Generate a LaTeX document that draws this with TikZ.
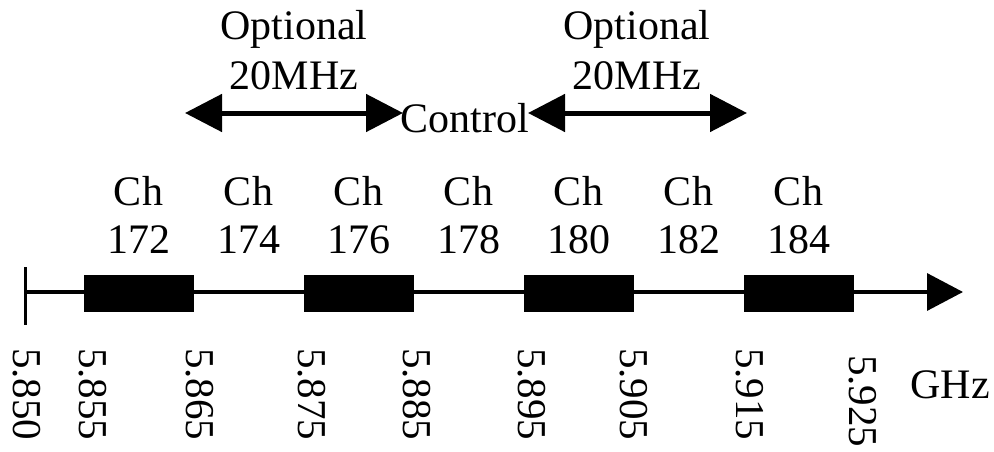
\documentclass[tikz,border=0pt]{standalone}
\usepackage{fontspec}
\setmainfont{Liberation Serif}
\usetikzlibrary{arrows.meta}
\begin{document}
\begin{tikzpicture}[x=1pt,y=-1pt,
  lbl/.style={inner sep=0pt,anchor=base,font=\fontsize{42pt}{50pt}\selectfont},
  freq/.style={inner sep=0pt,anchor=west,rotate=-90,font=\fontsize{41pt}{49pt}\selectfont},
  chbox/.style={fill=black,draw=none,minimum width=110pt,minimum height=37pt,inner sep=0pt},
  dbl/.style={line width=5pt,{Triangle[length=37pt,width=37pt]}-{Triangle[length=37pt,width=37pt]}},
  axis/.style={line width=3.5pt,-{Triangle[length=36pt,width=37pt]}}]
\useasboundingbox (0,0) rectangle (994,452);
% axis
\coordinate (a0) at (25,292);
\coordinate (a1) at (963,292);
\coordinate (t0) at (25,267);
\coordinate (t1) at (25,325);
\draw[line width=3pt] (t0) -- (t1);
\draw[axis] (a0) -- (a1);
% channel boxes
\node[chbox] (b172) at (138.5,293.5) {};
\node[chbox] (b176) at (358.5,293.5) {};
\node[chbox] (b180) at (578.5,293.5) {};
\node[chbox] (b184) at (798.5,293.5) {};
% channel labels
\foreach \n/\x in {172/138.5,174/248.5,176/358.5,178/468.5,180/578.5,182/688.5,184/798.5}{
  \node[lbl] (ch\n) at (\x,205) {Ch};
  \node[lbl] (num\n) at (\x,253) {\n};
}
% frequency labels
\node[freq] (f850) at (27,348) {5.850};
\node[freq] (f855) at (93,348) {5.855};
\node[freq] (f865) at (200,348) {5.865};
\node[freq] (f875) at (312,348) {5.875};
\node[freq] (f885) at (417,348) {5.885};
\node[freq] (f895) at (532,348) {5.895};
\node[freq] (f905) at (634,348) {5.905};
\node[freq] (f915) at (750,348) {5.915};
\node[freq] (f925) at (863,355) {5.925};
\node[lbl] (ghz) at (950,398) {GHz};
% top arrows
\node[lbl] (opt1) at (294,40) {Optional};
\node[lbl] (mhz1) at (294,90) {20MHz};
\node[lbl] (opt2) at (637,40) {Optional};
\node[lbl] (mhz2) at (637,90) {20MHz};
\node[lbl] (ctrl) at (465,132) {Control};
\coordinate (l0) at (185,113);
\coordinate (l1) at (403,113);
\coordinate (r0) at (528,113);
\coordinate (r1) at (747,113);
\draw[dbl] (l0) -- (l1);
\draw[dbl] (r0) -- (r1);
\end{tikzpicture}
\end{document}
